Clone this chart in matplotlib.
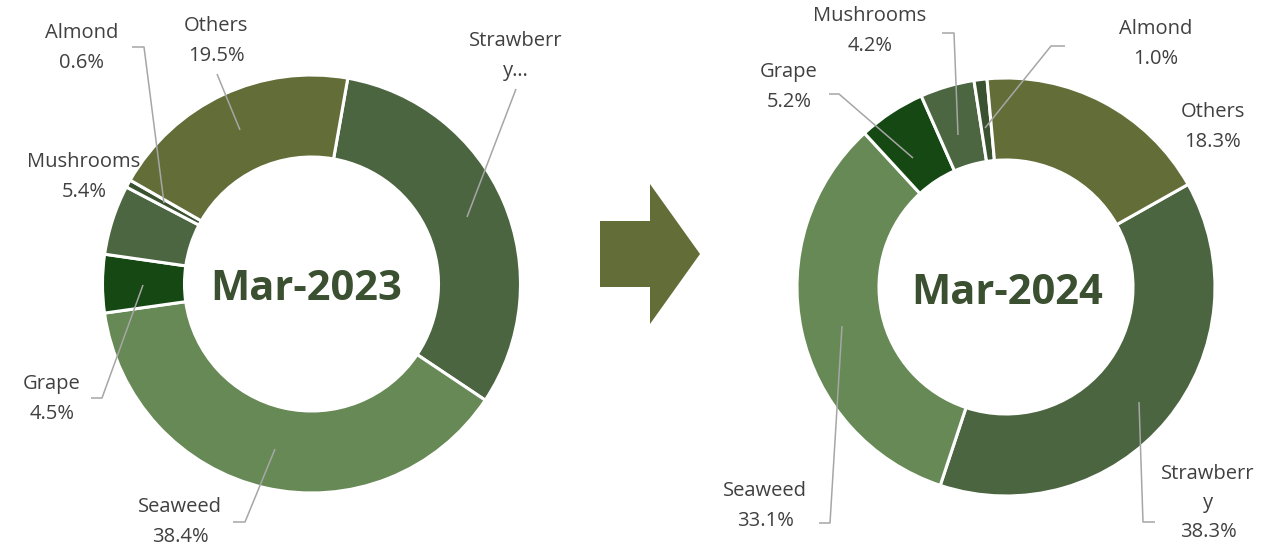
import matplotlib
matplotlib.use("Agg")
import matplotlib.pyplot as plt
from matplotlib.patches import FancyArrow

W, H = 1262, 548

categories = ["Strawberry", "Seaweed", "Grape", "Mushrooms", "Almond", "Others"]
share_2023 = [31.6, 38.4, 4.5, 5.4, 0.6, 19.5]
share_2024 = [38.3, 33.1, 5.2, 4.2, 1.0, 18.3]
titles = ["Mar-2023", "Mar-2024"]

colors = ["#4b6541", "#678956", "#164813", "#4b6641", "#3a5230", "#636d38"]
label_color = "#404040"
line_color = "#a6a6a6"

# label texts as shown on the chart (Excel truncated the Strawberry ones)
labels_2023 = ["Strawberr\ny\u2026", "Seaweed\n38.4%", "Grape\n4.5%",
               "Mushrooms\n5.4%", "Almond\n0.6%", "Others\n19.5%"]
labels_2024 = ["Strawberr\ny\n38.3%", "Seaweed\n33.1%", "Grape\n5.2%",
               "Mushrooms\n4.2%", "Almond\n1.0%", "Others\n18.3%"]

# label centres (pixels from top-left) and leader lines
pos_2023 = [(516, 56), (180, 522), (52, 399), (84, 177), (82, 48), (216, 41)]
lead_2023 = [[(516, 89), (467, 217)],
             [(233, 522), (245, 522), (275, 449)],
             [(91, 398), (102, 398), (143, 285)],
             None,
             [(132, 47), (144, 47), (164, 203)],
             [(217, 74), (240, 130)]]
pos_2024 = [(1208, 503), (765, 506), (789, 87), (870, 31), (1156, 44), (1213, 127)]
lead_2024 = [[(1155, 522), (1143, 522), (1139, 402)],
             [(819, 523), (830, 523), (842, 326)],
             [(829, 94), (839, 94), (913, 158)],
             [(942, 33), (954, 33), (958, 135)],
             [(1065, 46), (1051, 46), (985, 128)],
             None]

plt.rcParams['font.family'] = ['Open Sans', 'DejaVu Sans']

fig = plt.figure(figsize=(W / 100, H / 100), dpi=100)
ax = fig.add_axes([0, 0, 1, 1])

charts = [
    (share_2023, labels_2023, pos_2023, lead_2023, (311.5, 284), 80, 306),
    (share_2024, labels_2024, pos_2024, lead_2024, (1006, 287), 29.4, 1007),
]
R_OUT, R_IN = 209, 127

for (vals, labs, pos, leads, (cx, cy), start, tx), title in zip(charts, titles):
    ax.pie(vals, colors=colors, radius=R_OUT, center=(cx, H - cy),
           startangle=start, counterclock=False,
           wedgeprops=dict(width=R_OUT - R_IN, edgecolor="white", linewidth=2.2))
    ax.text(tx, H - cy - 6, title, ha="center", va="center", fontsize=30,
            fontweight="bold", color="#3b5030")
    for lab, (x, y), pts in zip(labs, pos, leads):
        ax.text(x, H - y, lab, ha="center", va="center", fontsize=14.5,
                color=label_color, linespacing=1.62)
        if pts:
            ax.plot([p[0] for p in pts], [H - p[1] for p in pts],
                    color=line_color, lw=1.1, solid_capstyle="butt")

# arrow between the two donuts
ax.add_patch(FancyArrow(600, H - 254, 100, 0, width=66, head_width=140,
                        head_length=50, length_includes_head=True,
                        color="#626d37", lw=0))

ax.set_xlim(0, W)
ax.set_ylim(0, H)
ax.axis("off")
fig.savefig("out.png", dpi=100, facecolor="white")
